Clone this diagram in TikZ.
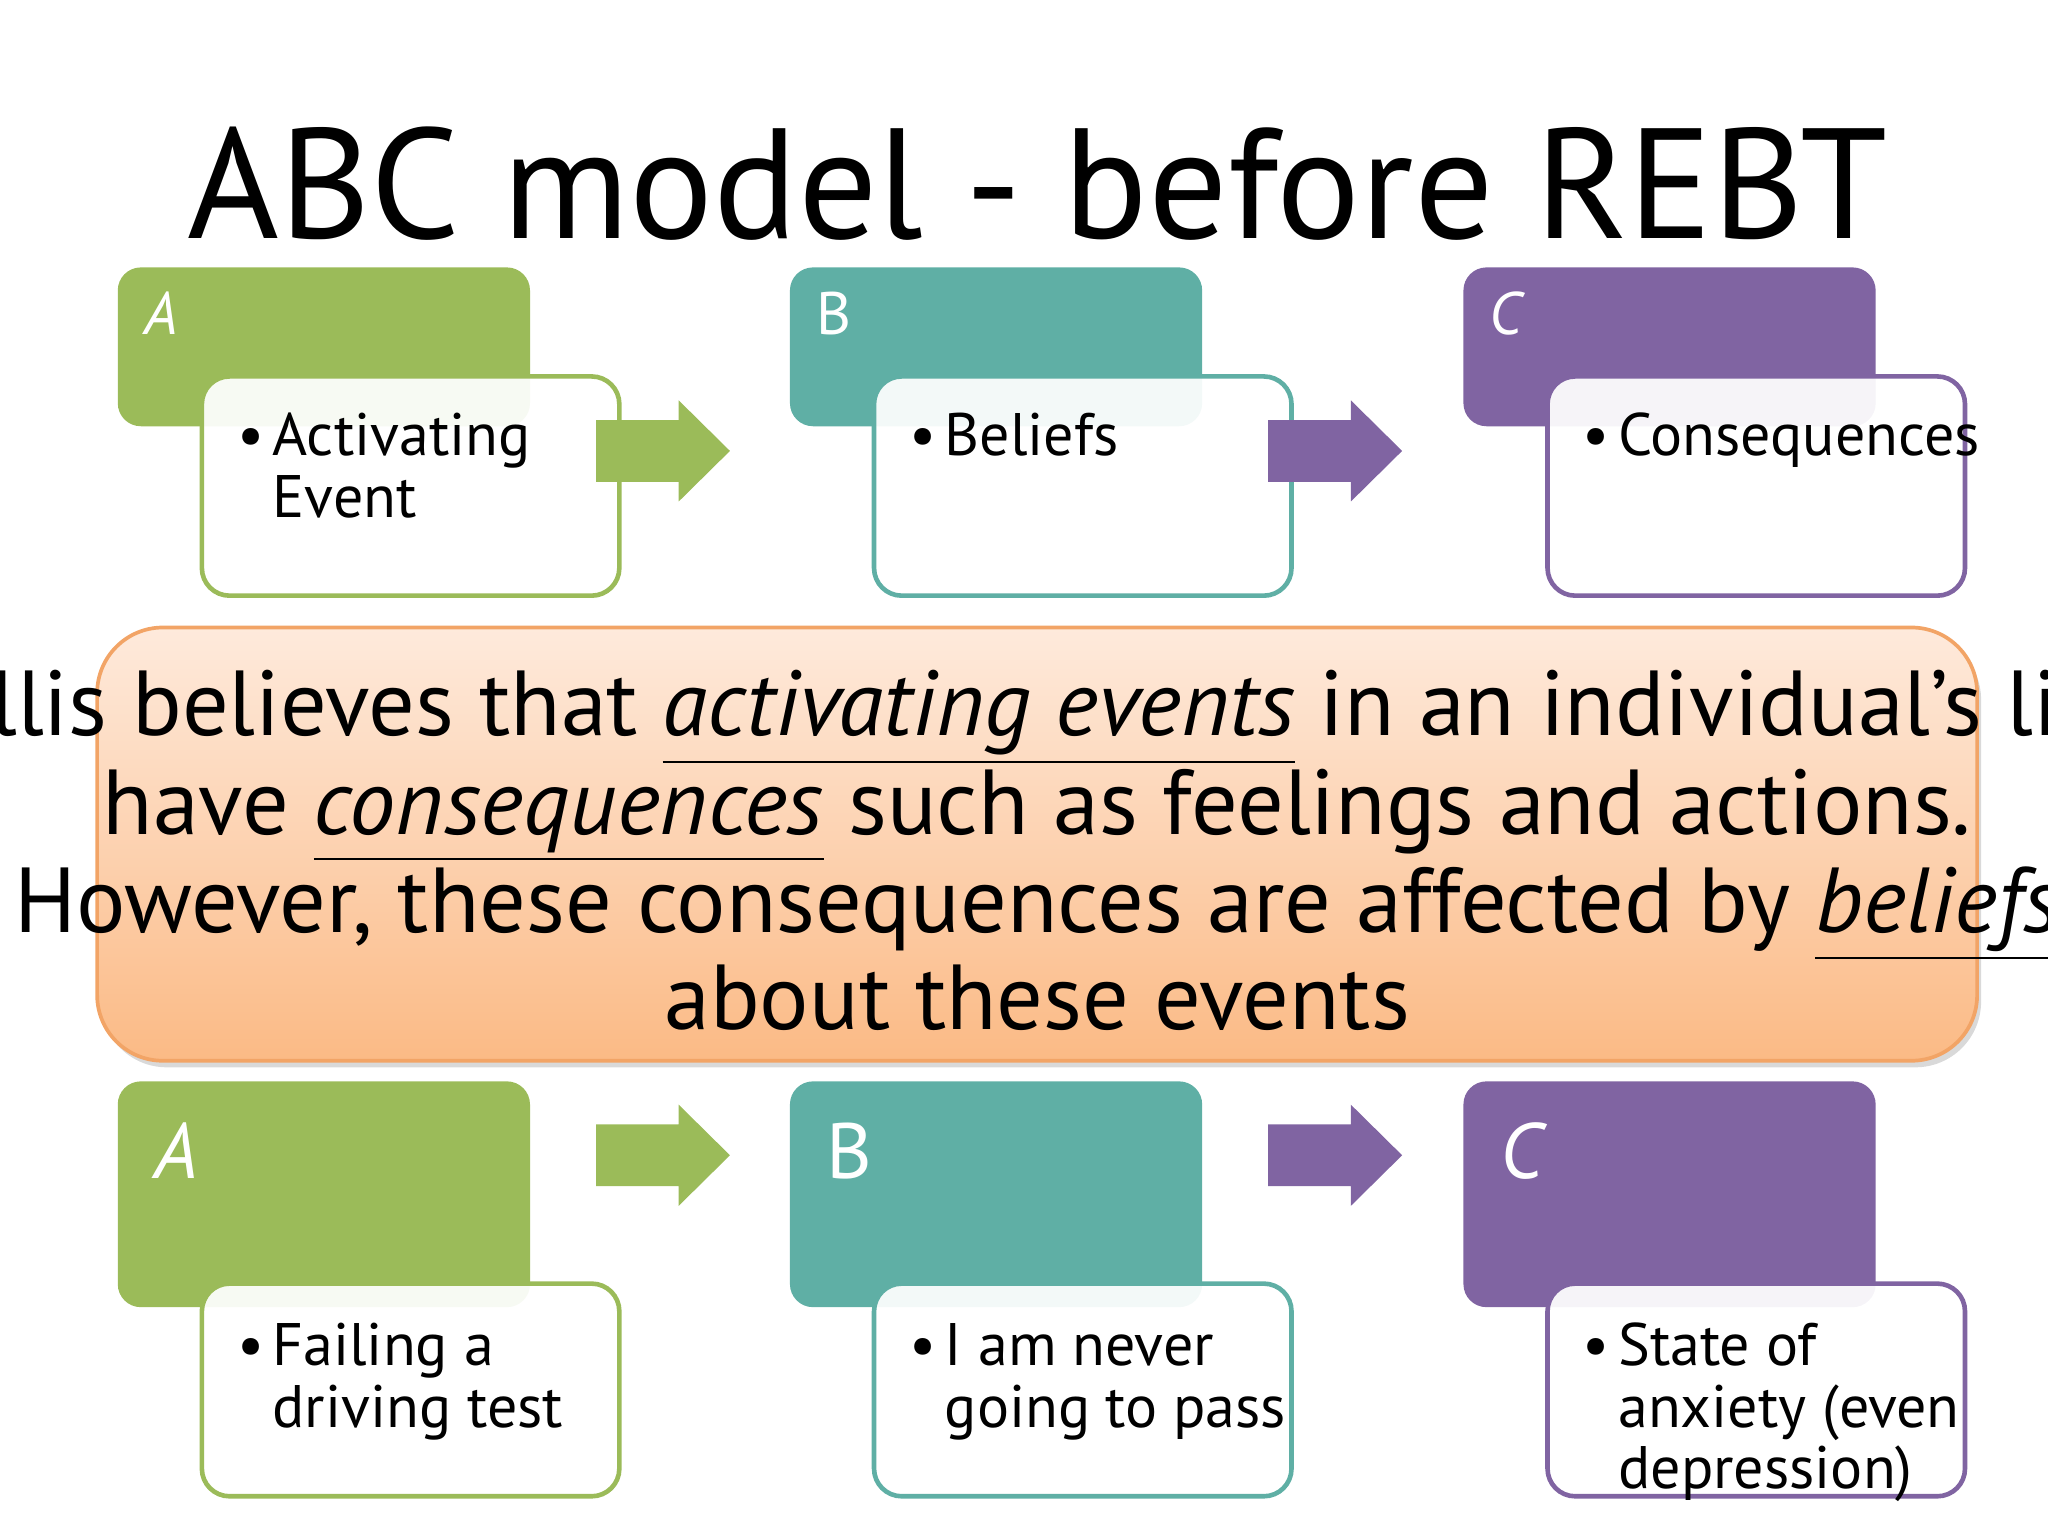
\documentclass[tikz,border=0pt]{standalone}
\usepackage{fontspec}
\setmainfont{PT Sans}
\usetikzlibrary{shadows}
\definecolor{cg}{HTML}{9BBB59}
\definecolor{ct}{HTML}{5FAFA5}
\definecolor{cp}{HTML}{8064A2}
\definecolor{otop}{HTML}{FEEADC}
\definecolor{obot}{HTML}{FBBA85}
\definecolor{oline}{HTML}{F2A466}
\newcommand{\bul}{\makebox[0.27cm][l]{\textbullet}}
\tikzset{
 hdr/.style={rectangle,rounded corners=5pt,anchor=north west,inner sep=0pt,minimum width=3.14cm},
 wbox/.style={rectangle,rounded corners=6pt,anchor=north west,inner sep=0pt,fill=white,fill opacity=0.93,line width=1pt,minimum width=3.18cm},
 lbl/.style={anchor=base west,text=white,inner sep=0pt},
 btxt/.style={anchor=base west,inner sep=0pt,align=left,font=\fontsize{13}{13.4}\selectfont},
}
\newcommand{\blockarrow}[3]{% x, ycenter, colour
 \fill[#3] (#1,#2-0.235) -- ++(0.63,0) -- ++(0,-0.15) -- ++(0.39,0.385) -- ++(-0.39,0.385) -- ++(0,-0.15) -- ++(-0.63,0) -- cycle;}
\begin{document}
\begin{tikzpicture}[x=1cm,y=1cm]
\useasboundingbox (0,0) rectangle (15.6,11.7);
\node[font=\fontsize{34}{36}\selectfont,inner sep=0pt,anchor=base] (title) at (7.9,9.88) {ABC model - before REBT};
% top row
\foreach \n/\x/\c in {a/0.89/cg,b/6.01/ct,c/11.14/cp}{
 \node[hdr,fill=\c,minimum height=1.21cm] (t\n) at (\x,9.67) {};
 \node[wbox,draw=\c,minimum height=1.67cm] (tw\n) at (\x+0.63,8.85) {};
}
\node[lbl,font=\fontsize{13}{14}\selectfont] (tla) at (1.09,9.15) {\textit{A}};
\node[lbl,font=\fontsize{13}{14}\selectfont] (tlb) at (6.21,9.15) {B};
\node[lbl,font=\fontsize{13}{14}\selectfont] (tlc) at (11.34,9.15) {\textit{C}};
\blockarrow{4.54}{8.265}{cg}
\blockarrow{9.66}{8.265}{cp}
\node[btxt] (txa) at (1.80,8.23) {\bul\parbox[t]{2.6cm}{Activating\\Event}};
\node[btxt] (txb) at (6.92,8.23) {\bul Beliefs};
\node[btxt] (txc) at (12.05,8.23) {\bul Consequences};
% middle
\node[rectangle,rounded corners=0.5cm,draw=oline,line width=0.8pt,top color=otop,bottom color=obot,
 minimum width=14.32cm,minimum height=3.30cm,inner sep=0pt,
 drop shadow={shadow xshift=0.03cm,shadow yshift=-0.05cm,opacity=0.3}] (mid) at (7.90,5.27) {};
\node[align=center,inner sep=0pt,font=\fontsize{20}{17.6}\selectfont] (mtxt) at (7.90,5.22)
 {Ellis believes that \underline{\textit{activating events}} in an individual’s life\\
  have \underline{\textit{consequences}} such as feelings and actions.\\
  However, these consequences are affected by \underline{\textit{beliefs}}\\
  about these events};
% bottom row
\foreach \n/\x/\c in {a/0.89/cg,b/6.01/ct,c/11.14/cp}{
 \node[hdr,fill=\c,minimum height=1.72cm] (b\n) at (\x,3.47) {};
 \node[wbox,draw=\c,minimum height=1.62cm] (bw\n) at (\x+0.63,1.94) {};
}
\node[lbl,font=\fontsize{17}{18}\selectfont] (bla) at (1.17,2.72) {\textit{A}};
\node[lbl,font=\fontsize{17}{18}\selectfont] (blb) at (6.29,2.72) {B};
\node[lbl,font=\fontsize{17}{18}\selectfont] (blc) at (11.42,2.72) {\textit{C}};
\blockarrow{4.54}{2.90}{cg}
\blockarrow{9.66}{2.90}{cp}
\node[btxt] (bxa) at (1.80,1.30) {\bul\parbox[t]{2.6cm}{Failing a\\driving test}};
\node[btxt] (bxb) at (6.92,1.30) {\bul\parbox[t]{2.6cm}{I am never\\going to pass}};
\node[btxt] (bxc) at (12.05,1.30) {\bul\parbox[t]{2.6cm}{State of\\anxiety (even\\depression)}};
\end{tikzpicture}
\end{document}
